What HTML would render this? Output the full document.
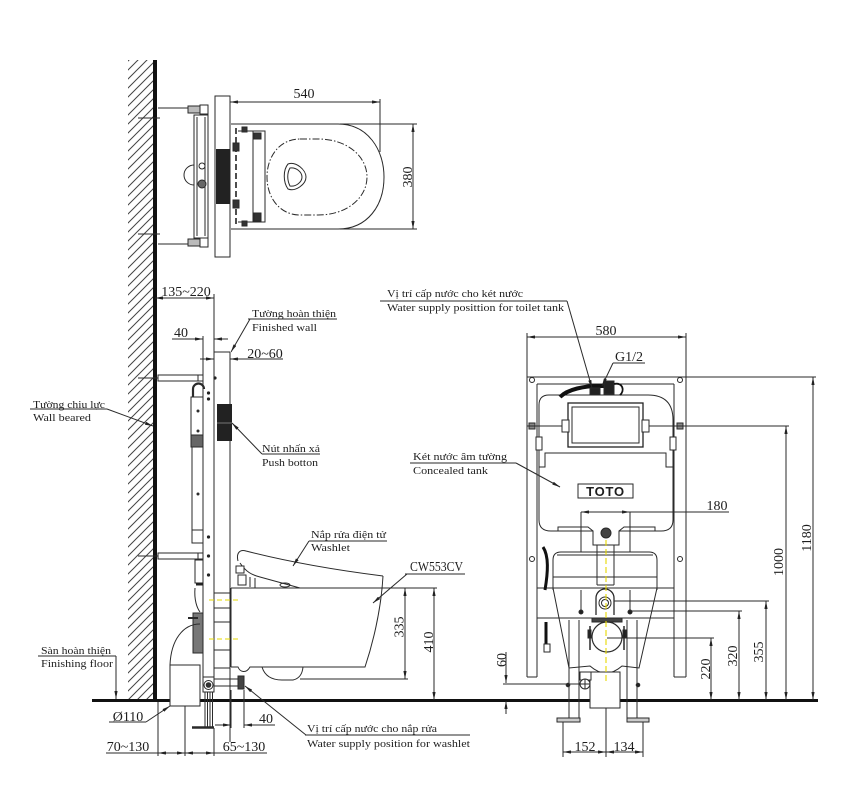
<!DOCTYPE html>
<html><head><meta charset="utf-8">
<style>
html,body{margin:0;padding:0;background:#fff;width:848px;height:812px;overflow:hidden}
svg{display:block}
text{font-family:"Liberation Serif","Noto Serif CJK SC",serif;fill:#1e1e1e}
</style></head><body>
<svg width="848" height="812" viewBox="0 0 848 812" xmlns="http://www.w3.org/2000/svg">
<defs>
<marker id="a" viewBox="0 0 10 4" refX="10" refY="2" markerUnits="userSpaceOnUse" markerWidth="8" markerHeight="3.2" orient="auto-start-reverse"><path d="M0,0L10,2L0,4z" fill="#222"/></marker>
<pattern id="h" width="9" height="9" patternUnits="userSpaceOnUse"><path d="M0,9L9,0M-1,1L1,-1M8,10L10,8" stroke="#444" stroke-width="1"/></pattern>
</defs>
<rect width="848" height="812" fill="#fff"/>

<!-- WALL & FLOOR -->
<rect x="128" y="60" width="25" height="640" fill="url(#h)"/>
<line x1="155" y1="60" x2="155" y2="701" stroke="#111" stroke-width="4"/>
<line x1="92" y1="700.5" x2="818" y2="700.5" stroke="#111" stroke-width="3"/>

<!-- ============ TOP PLAN VIEW ============ -->
<g fill="none" stroke="#2a2a2a" stroke-width="1">
<line x1="138" y1="118" x2="160" y2="118"/>
<line x1="138" y1="234" x2="160" y2="234"/>
<line x1="158" y1="108" x2="196" y2="108"/>
<line x1="158" y1="244" x2="196" y2="244"/>
<rect x="188" y="106" width="12" height="7" fill="#bbb"/>
<rect x="188" y="239" width="12" height="7" fill="#bbb"/>
<rect x="200" y="105" width="8" height="9" fill="#fff"/>
<rect x="200" y="238" width="8" height="9" fill="#fff"/>
<rect x="194" y="115" width="14" height="123" fill="#fff"/>
<line x1="197" y1="117" x2="197" y2="236"/>
<line x1="205" y1="117" x2="205" y2="236"/>
<path d="M194,165 A10,10 0 0,0 194,185"/>
<circle cx="202" cy="166" r="3"/>
<circle cx="202" cy="184" r="4" fill="#666"/>
<rect x="215" y="96" width="15" height="161" fill="#fff"/>
<rect x="216" y="149" width="14" height="55" fill="#222" stroke="none"/>
<path d="M231,124 L338,124 C368,124 384,150 384,177 C384,205 368,229 338,229 L231,229"/>
<path d="M300,139 L318,139 C348,139 367,157 367,177 C367,197 348,215 318,215 L300,215 C280,215 267,198 267,177 C267,156 280,139 300,139 Z" stroke-dasharray="7,2,1.5,2"/>
<path d="M288,164 C296,161 306,170 306,177 C306,184 296,192 288,189 C283,182 283,170 288,164 Z"/>
<path d="M290,168 C296,167 302,172 302,177 C302,182 296,187 290,186 C287,180 287,173 290,168 Z"/>
<line x1="236" y1="128" x2="236" y2="226" stroke="#222" stroke-width="1.6" stroke-dasharray="6,3"/>
<rect x="253" y="131" width="12" height="91"/>
<line x1="238" y1="131" x2="253" y2="131"/>
<line x1="238" y1="222" x2="253" y2="222"/>
<rect x="254" y="213" width="7" height="8" fill="#333"/>
<rect x="254" y="133" width="7" height="6" fill="#333"/>
<rect x="233" y="143" width="6" height="8" fill="#333"/>
<rect x="233" y="200" width="6" height="8" fill="#333"/>
<rect x="242" y="127" width="5" height="5" fill="#333"/>
<rect x="242" y="221" width="5" height="5" fill="#333"/>
<!-- dims -->
<path d="M230,102 H380" marker-start="url(#a)" marker-end="url(#a)"/>
<line x1="380" y1="99" x2="380" y2="152"/>
<path d="M413,124 V229" marker-start="url(#a)" marker-end="url(#a)"/>
<line x1="340" y1="124" x2="417" y2="124"/>
<line x1="340" y1="229" x2="417" y2="229"/>
</g>
<text x="304" y="98" font-size="14" text-anchor="middle">540</text>
<text transform="translate(407,177) rotate(-90)" y="5" font-size="14" text-anchor="middle">380</text>

<!-- ============ SIDE VIEW ============ -->
<g fill="none" stroke="#2a2a2a" stroke-width="1">
<line x1="203" y1="336" x2="203" y2="692"/>
<line x1="214" y1="294" x2="214" y2="692"/>
<line x1="230" y1="352" x2="230" y2="742"/>
<line x1="214" y1="352" x2="230" y2="352"/>
<!-- top bracket -->
<line x1="138" y1="378" x2="158" y2="378"/>
<rect x="158" y="375" width="40" height="6" fill="#fff"/>
<path d="M198,375 L203,375 M198,381 L203,381"/>
<path d="M193,397 L193,389 A5.5,5.5 0 0,1 204,389" stroke-width="2.2"/>
<rect x="191" y="397" width="12" height="38" fill="#fff"/>
<rect x="191" y="435" width="12" height="12" fill="#666"/>
<rect x="192" y="447" width="11" height="83" fill="#fff"/>
<rect x="192" y="530" width="11" height="13" fill="#fff"/>
<circle cx="198" cy="411" r="1" fill="#333"/>
<circle cx="198" cy="431" r="1" fill="#333"/>
<circle cx="198" cy="494" r="1" fill="#333"/>
<!-- bottom bracket -->
<line x1="138" y1="556" x2="158" y2="556"/>
<rect x="158" y="553" width="40" height="6" fill="#fff"/>
<path d="M198,553 L203,553 M198,559 L203,559"/>
<!-- frame dots -->
<g fill="#222" stroke="none">
<circle cx="208.5" cy="393" r="1.6"/><circle cx="208.5" cy="399" r="1.6"/>
<circle cx="208.5" cy="537" r="1.6"/><circle cx="208.5" cy="556" r="1.6"/>
<circle cx="208.5" cy="575" r="1.6"/><circle cx="215" cy="378" r="1.6"/>
</g>
<!-- push button -->
<rect x="217" y="404" width="15" height="37" fill="#222" stroke="none"/>
<line x1="217" y1="423" x2="232" y2="423" stroke="#777"/>
<!-- lower parts -->
<rect x="195" y="560" width="8" height="23" fill="#fff"/>
<line x1="196" y1="584" x2="203" y2="584" stroke-width="3" stroke="#222"/>
<path d="M195,588 C194,600 197,608 200,612"/>
<rect x="193" y="613" width="10" height="40" fill="#777"/>
<line x1="188" y1="618" x2="198" y2="618" stroke-width="2"/>
<path d="M200,624 C183,624 171,640 170,665"/>
<rect x="170" y="665" width="30" height="41" fill="#fff"/>
<rect x="203" y="677" width="11" height="15" fill="#fff"/>
<circle cx="208.5" cy="685" r="4.5"/>
<circle cx="208.5" cy="685" r="2.3" fill="#333"/>
<line x1="214" y1="679" x2="238" y2="679"/>
<line x1="214" y1="686" x2="238" y2="686"/>
<rect x="238" y="676" width="6" height="13" fill="#444"/>
<line x1="205" y1="692" x2="205" y2="727"/>
<line x1="207.5" y1="692" x2="207.5" y2="727"/>
<line x1="210" y1="692" x2="210" y2="727"/>
<line x1="212.5" y1="692" x2="212.5" y2="727"/>
<line x1="192" y1="727.5" x2="214" y2="727.5" stroke-width="2.5"/>
<!-- finished wall panel parts -->
<rect x="214" y="593" width="16" height="15" fill="#fff"/>
<line x1="214" y1="622" x2="230" y2="622"/>
<line x1="214" y1="650" x2="230" y2="650"/>
<line x1="214" y1="668" x2="230" y2="668"/>
<line x1="209" y1="600" x2="240" y2="600" stroke="#e6d800" stroke-dasharray="5,3"/>
<line x1="209" y1="639" x2="240" y2="639" stroke="#e6d800" stroke-dasharray="5,3"/>
<!-- bowl -->
<line x1="231" y1="588" x2="380" y2="588"/>
<line x1="231" y1="588" x2="231" y2="667"/>
<path d="M383,576 C381,612 372,646 365,667 L250,667 C246,674 240,672 238,667 L231,667"/>
<path d="M262,667 Q266,680 282,680 L293,680 Q302,678 303,667"/>
<!-- washlet -->
<path d="M238,561 C236,553 240,549 246,551 C285,561 335,570 383,576"/>
<path d="M240,563 C246,572 252,575 260,577 L300,588"/>
<rect x="236" y="566" width="8" height="7" fill="#fff"/>
<rect x="238" y="575" width="8" height="10" fill="#fff"/>
<path d="M250,577 L250,587 M255,578 L255,588"/>
<ellipse cx="285" cy="585" rx="5" ry="2"/>
<!-- dims -->
<path d="M155,298 H214" marker-start="url(#a)" marker-end="url(#a)"/>
<path d="M172,339 H203" marker-end="url(#a)"/>
<path d="M228,339 H214" marker-end="url(#a)"/>
<path d="M200,359 H214" marker-end="url(#a)"/>
<path d="M283,359 H230" marker-end="url(#a)"/>
<path d="M405,588 V679" marker-start="url(#a)" marker-end="url(#a)"/>
<path d="M434,588 V700" marker-start="url(#a)" marker-end="url(#a)"/>
<line x1="380" y1="588" x2="437" y2="588"/>
<line x1="300" y1="679" x2="408" y2="679"/>
<!-- bottom dims -->
<line x1="158" y1="702" x2="158" y2="756"/>
<line x1="185" y1="706" x2="185" y2="756"/>
<line x1="214" y1="728" x2="214" y2="756"/>
<line x1="231" y1="690" x2="231" y2="728"/>
<line x1="244" y1="690" x2="244" y2="728"/>
<line x1="106" y1="753" x2="158" y2="753"/>
<path d="M172,753 H158" marker-end="url(#a)"/>
<path d="M172,753 H185" marker-end="url(#a)"/>
<path d="M200,753 H185" marker-end="url(#a)"/>
<path d="M200,753 H214" marker-end="url(#a)"/>
<line x1="214" y1="753" x2="267" y2="753"/>
<path d="M215,725 H231" marker-end="url(#a)"/>
<path d="M275,725 H244" marker-end="url(#a)"/>
<!-- leaders -->
<line x1="30" y1="409" x2="107" y2="409"/>
<path d="M107,409 L153,426" marker-end="url(#a)"/>
<line x1="248" y1="319" x2="337" y2="319"/>
<path d="M250,319 L231,352" marker-end="url(#a)"/>
<line x1="262" y1="454" x2="320" y2="454"/>
<path d="M262,454 L232,423" marker-end="url(#a)"/>
<line x1="309" y1="541" x2="387" y2="541"/>
<path d="M309,541 L293,566" marker-end="url(#a)"/>
<line x1="405" y1="574" x2="465" y2="574"/>
<path d="M407,574 L373,603" marker-end="url(#a)"/>
<line x1="38" y1="656" x2="116" y2="656"/>
<path d="M116,656 V699" marker-end="url(#a)"/>
<line x1="109" y1="722" x2="146" y2="722"/>
<path d="M146,722 L170,706" marker-end="url(#a)"/>
<line x1="305" y1="735" x2="470" y2="735"/>
<path d="M306,735 L245,686" marker-end="url(#a)"/>
</g>
<g font-size="14">
<text x="186" y="296" text-anchor="middle">135~220</text>
<text x="181" y="337" text-anchor="middle">40</text>
<text x="265" y="358" text-anchor="middle">20~60</text>
<text transform="translate(398.5,627) rotate(-90)" y="5" text-anchor="middle">335</text>
<text transform="translate(428,642) rotate(-90)" y="5" text-anchor="middle">410</text>
<text x="128" y="721" text-anchor="middle">Ø110</text>
<text x="128" y="751" text-anchor="middle">70~130</text>
<text x="244" y="751" text-anchor="middle">65~130</text>
<text x="266" y="723" text-anchor="middle">40</text>
<text x="410" y="571" textLength="53" lengthAdjust="spacingAndGlyphs">CW553CV</text>
</g>
<g font-size="11">
<text x="33" y="408" textLength="72" lengthAdjust="spacingAndGlyphs">Tường chịu lực</text>
<text x="33" y="421" textLength="58" lengthAdjust="spacingAndGlyphs">Wall beared</text>
<text x="252" y="317" textLength="84" lengthAdjust="spacingAndGlyphs">Tường hoàn thiện</text>
<text x="252" y="331" textLength="65" lengthAdjust="spacingAndGlyphs">Finished wall</text>
<text x="262" y="452" textLength="58" lengthAdjust="spacingAndGlyphs">Nút nhấn xả</text>
<text x="262" y="466" textLength="56" lengthAdjust="spacingAndGlyphs">Push botton</text>
<text x="311" y="538" textLength="75" lengthAdjust="spacingAndGlyphs">Nắp rửa điện tử</text>
<text x="311" y="551" textLength="39" lengthAdjust="spacingAndGlyphs">Washlet</text>
<text x="41" y="654" textLength="70" lengthAdjust="spacingAndGlyphs">Sàn hoàn thiện</text>
<text x="41" y="667" textLength="72" lengthAdjust="spacingAndGlyphs">Finishing floor</text>
<text x="307" y="732" textLength="130" lengthAdjust="spacingAndGlyphs">Vị trí cấp nước cho nắp rửa</text>
<text x="307" y="747" textLength="163" lengthAdjust="spacingAndGlyphs">Water supply position for washlet</text>
</g>

<!-- ============ FRONT VIEW ============ -->
<g fill="none" stroke="#2a2a2a" stroke-width="1">
<!-- frame -->
<line x1="527" y1="333" x2="527" y2="677"/>
<line x1="537" y1="384" x2="537" y2="677"/>
<line x1="674" y1="384" x2="674" y2="677"/>
<line x1="686" y1="333" x2="686" y2="677"/>
<line x1="527" y1="677" x2="537" y2="677"/>
<line x1="674" y1="677" x2="686" y2="677"/>
<line x1="527" y1="377" x2="816" y2="377"/>
<line x1="537" y1="384" x2="674" y2="384"/>
<line x1="537" y1="588" x2="674" y2="588"/>
<line x1="537" y1="618" x2="674" y2="618"/>
<circle cx="532" cy="380" r="2.5"/><circle cx="680" cy="380" r="2.5"/>
<circle cx="532" cy="559" r="2.5"/><circle cx="680" cy="559" r="2.5"/>
<rect x="529" y="423" width="6" height="6" fill="#888"/>
<rect x="677" y="423" width="6" height="6" fill="#888"/>
<!-- tank -->
<path d="M539,520 L539,405 Q539,395 549,395 L648,395 Q673,395 673,420 L673,520 Q673,531 661,531 L619,531 L619,545 L593,545 L593,531 L551,531 Q539,531 539,520 Z" fill="#fff"/>
<path d="M539,467 L545,467 L545,453 L666,453 L666,467 L673,467"/>
<path d="M558,531 L558,527 L588,527 L593,531 M619,531 L624,527 L655,527 L655,531"/>
<line x1="527" y1="426" x2="565" y2="426"/>
<line x1="645" y1="426" x2="789" y2="426"/>
<rect x="536" y="437" width="6" height="13" fill="#fff"/>
<rect x="670" y="437" width="6" height="13" fill="#fff"/>
<rect x="568" y="403" width="75" height="44" stroke="#222" stroke-width="1.3" fill="#fff"/>
<rect x="572" y="407" width="67" height="36"/>
<rect x="562" y="420" width="7" height="12" fill="#fff"/>
<rect x="642" y="420" width="7" height="12" fill="#fff"/>
<path d="M560,397 C568,389 585,386 598,386 L612,386" stroke="#111" stroke-width="4"/>
<rect x="604" y="381" width="10" height="13" fill="#222"/>
<path d="M614,384 C623,382 625,391 620,395" stroke="#111" stroke-width="1.8"/>
<rect x="590" y="388" width="10" height="7" fill="#222"/>
<rect x="578" y="484" width="55" height="14" fill="#fff"/>
<circle cx="606" cy="533" r="5" fill="#444"/>
<!-- 180 dim -->
<path d="M600,512 H581" marker-end="url(#a)"/>
<path d="M610,512 H630" marker-end="url(#a)"/>
<line x1="600" y1="512" x2="729" y2="512"/>
<line x1="581" y1="512" x2="581" y2="612"/>
<line x1="630" y1="512" x2="630" y2="612"/>
<circle cx="581" cy="612" r="2" fill="#222"/>
<circle cx="630" cy="612" r="2" fill="#222"/>
<!-- bowl -->
<path d="M553,590 L553,560 Q553,552 561,552 L649,552 Q657,552 657,560 L657,590" fill="#fff"/>
<line x1="557" y1="555" x2="653" y2="555"/>
<line x1="553" y1="577" x2="657" y2="577"/>
<line x1="537" y1="588" x2="674" y2="588"/>
<path d="M553,588 L569,668 L590,666 Q606,680 622,666 L639,668 L657,588"/>
<rect x="590" y="672" width="30" height="36" fill="#fff"/>
<line x1="597" y1="545" x2="597" y2="585"/>
<line x1="614" y1="545" x2="614" y2="585"/>
<line x1="597" y1="585" x2="614" y2="585"/>
<!-- legs -->
<line x1="569" y1="620" x2="569" y2="718"/>
<line x1="579" y1="620" x2="579" y2="718"/>
<line x1="627" y1="620" x2="627" y2="718"/>
<line x1="637" y1="620" x2="637" y2="718"/>
<rect x="557" y="718" width="23" height="4" fill="#ccc"/>
<rect x="627" y="718" width="22" height="4" fill="#ccc"/>
<circle cx="568" cy="685" r="1.8" fill="#222"/>
<circle cx="638" cy="685" r="1.8" fill="#222"/>
<!-- washlet supply -->
<path d="M596,615 L596,598 A9,9 0 0,1 614,598 L614,615" stroke-width="1.3"/>
<circle cx="605" cy="603" r="6"/>
<circle cx="605" cy="603" r="3.5"/>
<!-- drain -->
<rect x="592" y="618" width="30" height="4" fill="#444"/>
<circle cx="607" cy="637" r="15" fill="#fff" stroke-width="1.2"/>
<path d="M590,626 L590,650 M624,626 L624,650" stroke-width="1.5"/>
<rect x="588" y="630" width="3" height="8" fill="#222"/>
<rect x="623" y="630" width="3" height="8" fill="#222"/>
<!-- hoses -->
<path d="M543,547 C549,556 548,572 545,590" stroke="#111" stroke-width="3"/>
<path d="M546,622 L546,645" stroke="#111" stroke-width="3"/>
<rect x="544" y="644" width="6" height="8" fill="#fff"/>
<!-- fitting -->
<rect x="580" y="672" width="11" height="8" fill="#fff"/>
<circle cx="585" cy="684" r="5" fill="#fff"/>
<path d="M580,684 H590 M585,679 V689"/>
<line x1="606" y1="540" x2="606" y2="682" stroke="#e6d800" stroke-dasharray="6,3" stroke-width="1.1"/>
<!-- 60 -->
<path d="M506,652 V683" marker-end="url(#a)"/>
<path d="M506,714 V701" marker-end="url(#a)"/>
<line x1="503" y1="684" x2="590" y2="684"/>
<!-- bottom dims -->
<line x1="563" y1="722" x2="563" y2="757"/>
<line x1="606" y1="708" x2="606" y2="757"/>
<line x1="643" y1="722" x2="643" y2="757"/>
<path d="M563,752 H606" marker-start="url(#a)" marker-end="url(#a)"/>
<path d="M606,752 H643" marker-start="url(#a)" marker-end="url(#a)"/>
<!-- right dims -->
<line x1="607" y1="638" x2="714" y2="638"/>
<line x1="630" y1="611" x2="742" y2="611"/>
<line x1="614" y1="601" x2="769" y2="601"/>
<path d="M711,700 V638" marker-start="url(#a)" marker-end="url(#a)"/>
<path d="M739,700 V611" marker-start="url(#a)" marker-end="url(#a)"/>
<path d="M766,700 V601" marker-start="url(#a)" marker-end="url(#a)"/>
<path d="M786,700 V426" marker-start="url(#a)" marker-end="url(#a)"/>
<path d="M813,700 V377" marker-start="url(#a)" marker-end="url(#a)"/>
<path d="M527,337 H686" marker-start="url(#a)" marker-end="url(#a)"/>
<!-- leaders -->
<line x1="380" y1="301" x2="567" y2="301"/>
<path d="M567,301 L592,388" marker-end="url(#a)"/>
<line x1="613" y1="363" x2="645" y2="363"/>
<path d="M613,363 L602,386" marker-end="url(#a)"/>
<line x1="410" y1="463" x2="516" y2="463"/>
<path d="M516,463 L560,487" marker-end="url(#a)"/>
</g>
<text x="605.5" y="496" font-family="Liberation Sans, sans-serif" font-weight="bold" font-size="13" text-anchor="middle" letter-spacing="0.8" fill="#555" style="font-family:'Liberation Sans',sans-serif">TOTO</text>
<g font-size="14">
<text x="606" y="335" text-anchor="middle">580</text>
<text x="629" y="361" text-anchor="middle">G1/2</text>
<text x="717" y="510" text-anchor="middle">180</text>
<text x="585" y="751" text-anchor="middle">152</text>
<text x="624" y="751" text-anchor="middle">134</text>
<text transform="translate(501,660) rotate(-90)" y="5" text-anchor="middle">60</text>
<text transform="translate(705,669) rotate(-90)" y="5" text-anchor="middle">220</text>
<text transform="translate(732,656) rotate(-90)" y="5" text-anchor="middle">320</text>
<text transform="translate(758,652) rotate(-90)" y="5" text-anchor="middle">355</text>
<text transform="translate(778,562) rotate(-90)" y="5" text-anchor="middle">1000</text>
<text transform="translate(806,538) rotate(-90)" y="5" text-anchor="middle">1180</text>
</g>
<g font-size="11">
<text x="387" y="297" textLength="136" lengthAdjust="spacingAndGlyphs">Vị trí cấp nước cho két nước</text>
<text x="387" y="311" textLength="177" lengthAdjust="spacingAndGlyphs">Water supply posittion for toilet tank</text>
<text x="413" y="460" textLength="94" lengthAdjust="spacingAndGlyphs">Két nước âm tường</text>
<text x="413" y="474" textLength="75" lengthAdjust="spacingAndGlyphs">Concealed tank</text>
</g>
</svg>
</body></html>
